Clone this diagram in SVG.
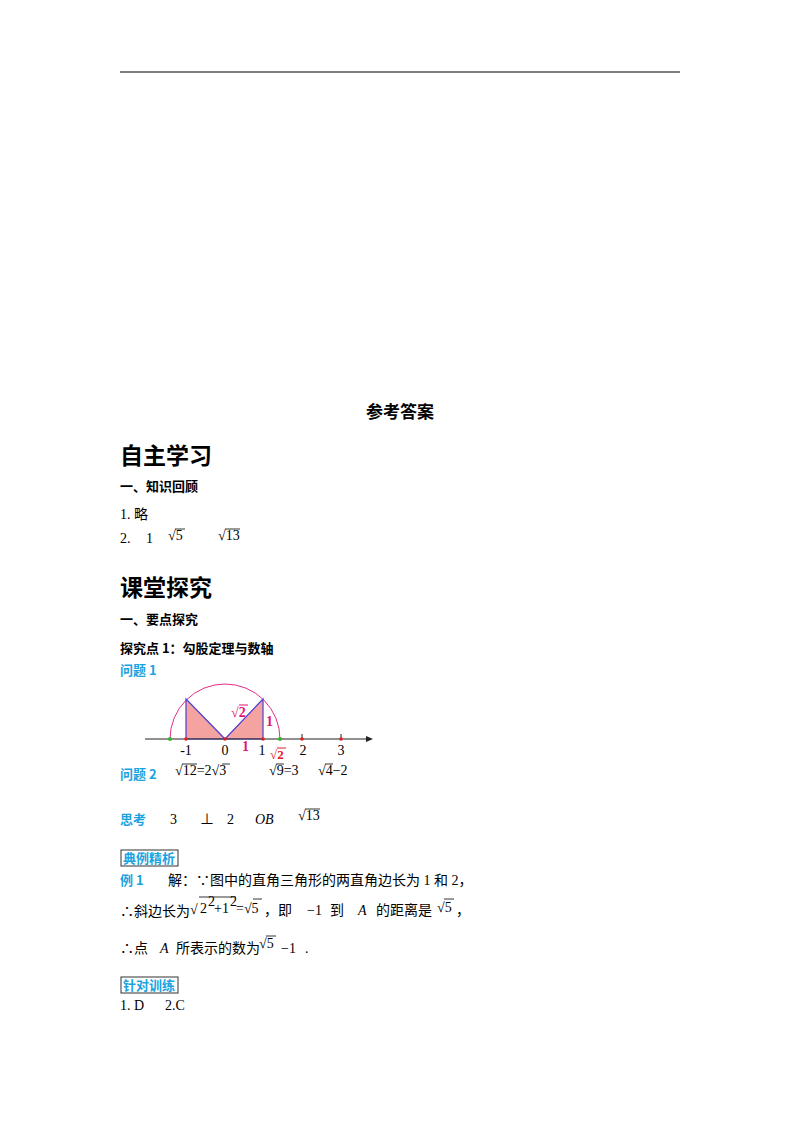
<svg xmlns="http://www.w3.org/2000/svg" width="800" height="1132" viewBox="0 0 800 1132">
<style>
.t{font-family:"Liberation Serif","Noto Sans CJK SC",serif;font-size:14px;fill:#000;white-space:pre}
.b{font-family:"Noto Sans CJK SC",sans-serif;font-weight:bold;fill:#000}
.blue{font-family:"Noto Sans CJK SC",sans-serif;font-weight:bold;font-size:13px;fill:#1aa3e0}
.m{font-family:"Liberation Serif",serif;font-weight:bold;fill:#e0157a}
.rad{stroke:#000;stroke-width:0.8;fill:none}
</style>
<rect width="800" height="1132" fill="#fff"/>
<line x1="120" y1="72" x2="680" y2="72" stroke="#000" stroke-width="1.2"/>
<text class="b" x="400" y="418" font-size="17" text-anchor="middle">参考答案</text>
<text class="b" x="120" y="464" font-size="23">自主学习</text>
<text class="b" x="120" y="491" font-size="13">一、知识回顾</text>
<text class="t" x="120" y="519">1. 略</text>
<text class="t" x="120" y="543">2.</text><text class="t" x="146" y="543">1</text>
<text class="t" x="168" y="540">√5</text><line class="rad" x1="175" y1="529" x2="185" y2="529"/>
<text class="t" x="218" y="540">√13</text><line class="rad" x1="225" y1="529" x2="240" y2="529"/>
<text class="b" x="120" y="596" font-size="23">课堂探究</text>
<text class="b" x="120" y="624" font-size="13">一、要点探究</text>
<text class="b" x="120" y="653" font-size="13">探究点 1：勾股定理与数轴</text>
<text class="blue" x="120" y="675">问题 1</text>
<g id="figure">
<path d="M170 739 A55 55 0 0 1 280 739" fill="none" stroke="#e0157a" stroke-width="0.9"/>
<polygon points="186,739 186,699 225,739" fill="#f4a3a0" stroke="#4a3fd0" stroke-width="1.2"/>
<polygon points="225,739 263,699 263,739" fill="#f4a3a0" stroke="#4a3fd0" stroke-width="1.2"/>
<line x1="145" y1="739" x2="368" y2="739" stroke="#222" stroke-width="1.2"/>
<polygon points="373,739 366,736 366,742" fill="#222"/>
<line x1="302" y1="734" x2="302" y2="739" stroke="#222"/><line x1="341" y1="734" x2="341" y2="739" stroke="#222"/>
<g fill="#e02020"><circle cx="186" cy="739" r="1.8"/><circle cx="225" cy="739" r="1.8"/><circle cx="263" cy="739" r="1.8"/><circle cx="302" cy="739" r="1.8"/><circle cx="341" cy="739" r="1.8"/></g>
<g fill="#2fb52f"><circle cx="170" cy="739" r="2"/><circle cx="280" cy="739" r="2"/></g>
<g class="t"><text x="186" y="755" text-anchor="middle">-1</text><text x="225" y="755" text-anchor="middle">0</text><text x="262" y="755" text-anchor="middle">1</text><text x="303" y="755" text-anchor="middle">2</text><text x="341" y="755" text-anchor="middle">3</text></g>
<text class="m" x="231" y="717" font-size="14">√2</text><line x1="239" y1="705" x2="248" y2="705" stroke="#e0157a"/>
<text class="m" x="266" y="726" font-size="14">1</text>
<text class="m" x="242" y="751" font-size="14">1</text>
<text class="m" x="270" y="759" font-size="13" style="fill:#e02020">√2</text><line x1="277" y1="748" x2="286" y2="748" stroke="#e02020"/>
</g>
<text class="blue" x="120" y="779">问题 2</text>
<text class="t" x="175" y="775">√12=2√3</text><line class="rad" x1="182" y1="764" x2="197" y2="764"/><line class="rad" x1="222" y1="764" x2="230" y2="764"/>
<text class="t" x="269" y="775">√9=3</text><line class="rad" x1="276" y1="764" x2="284" y2="764"/>
<text class="t" x="318" y="775">√4−2</text><line class="rad" x1="325" y1="764" x2="333" y2="764"/>
<text class="blue" x="120" y="824">思考</text>
<text class="t" x="170" y="824">3</text><text class="t" x="200" y="824">⊥</text><text class="t" x="227" y="824">2</text>
<text class="t" x="255" y="824" font-style="italic">OB</text>
<text class="t" x="298" y="820">√13</text><line class="rad" x1="305" y1="809" x2="320" y2="809"/>
<rect x="121" y="850" width="57" height="16" fill="none" stroke="#333" stroke-width="1"/>
<text class="blue" x="123" y="863">典例精析</text>
<text class="blue" x="120" y="885">例 1</text>
<text class="t" x="168" y="885">解：∵图中的直角三角形的两直角边长为 1 和 2，</text>
<text class="t" x="120" y="916">∴斜边长为</text>
<text class="t" x="190" y="914" font-size="19">√</text><text class="t" x="200" y="913" font-size="15">2</text><text class="t" x="208" y="906" font-size="7">2</text><text class="t" x="214" y="913" font-size="15">+1</text><text class="t" x="230" y="906" font-size="7">2</text><text class="t" x="236" y="913" font-size="15">=√5</text>
<line class="rad" x1="199" y1="897" x2="236" y2="897"/><line class="rad" x1="253" y1="899" x2="262" y2="899"/>
<text class="t" x="264" y="915">，即</text><text class="t" x="307" y="915">−1</text><text class="t" x="330" y="915">到</text><text class="t" x="358" y="915" font-style="italic">A</text><text class="t" x="376" y="915">的距离是</text>
<text class="t" x="437" y="912">√5</text><line class="rad" x1="444" y1="899" x2="454" y2="899"/><text class="t" x="456" y="915">，</text>
<text class="t" x="120" y="953">∴点</text><text class="t" x="160" y="953" font-style="italic">A</text><text class="t" x="176" y="953">所表示的数为</text>
<text class="t" x="259" y="948">√5</text><line class="rad" x1="266" y1="936" x2="276" y2="936"/>
<text class="t" x="281" y="953">−1</text><text class="t" x="305" y="953">.</text>
<rect x="121" y="977" width="57" height="16" fill="none" stroke="#333" stroke-width="1"/>
<text class="blue" x="123" y="990">针对训练</text>
<text class="t" x="120" y="1010">1. D</text><text class="t" x="165" y="1010">2.C</text>
</svg>
